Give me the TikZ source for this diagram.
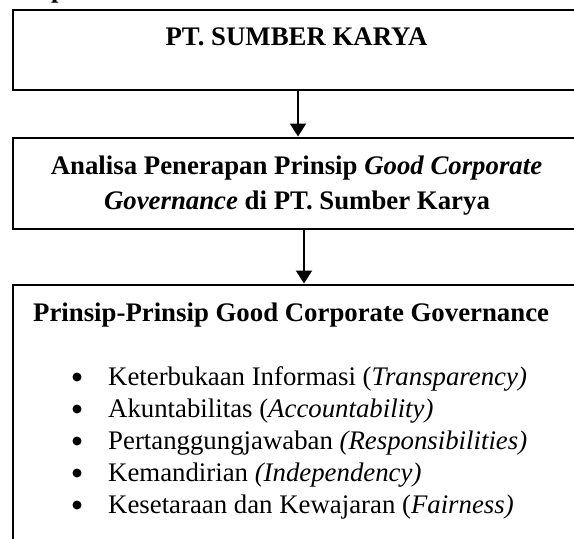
\documentclass[tikz,border=0pt]{standalone}
\usepackage{fontspec}
\setmainfont{Liberation Serif}
\usetikzlibrary{arrows.meta}
\tikzset{
  boxframe/.style={draw=black, line width=2pt, rectangle, inner sep=0pt, minimum width=568pt},
  txt/.style={inner sep=0pt, font=\fontsize{26.8}{35}\selectfont},
  btxt/.style={txt, font=\fontsize{26.8}{35}\selectfont\bfseries},
  dot/.style={circle, fill=black, inner sep=0pt, minimum size=9pt},
  arr/.style={line width=2pt, -{Triangle[width=16pt,length=13pt]}, shorten >=0.5pt}
}
\begin{document}
\begin{tikzpicture}[x=1pt,y=-1pt]
\useasboundingbox (0,0) rectangle (574,539);
\begin{scope}
\clip (0,0) rectangle (574,539);
% fragment of a heading above the picture
\node[btxt, anchor=base west] (frag) at (51,-3) {p};
% boxes
\node[boxframe, minimum height=80pt] (b1) at (296.5,50) {};
\node[boxframe, minimum height=91pt] (b2) at (296.5,183.5) {};
\node[boxframe, minimum height=300pt] (b3) at (296.5,435) {};
% box texts
\node[btxt, anchor=base] (t1) at (296.5,45) {PT. SUMBER KARYA};
\node[btxt, anchor=base] (t2a) at (296.5,174) {Analisa Penerapan Prinsip \textit{Good Corporate}};
\node[btxt, anchor=base] (t2b) at (297,209) {\textit{Governance} di PT. Sumber Karya};
\node[btxt, anchor=base west] (t3) at (33,321) {Prinsip-Prinsip Good Corporate Governance};
% bullets
\node[dot] (u1) at (77,377) {};
\node[dot] (u2) at (77,409) {};
\node[dot] (u3) at (77,441) {};
\node[dot] (u4) at (77,473) {};
\node[dot] (u5) at (77,505) {};
\node[txt, anchor=base west] (l1) at (108,385) {Keterbukaan Informasi (\textit{Transparency)}};
\node[txt, anchor=base west] (l2) at (108,417) {Akuntabilitas (\textit{Accountability)}};
\node[txt, anchor=base west] (l3) at (108,449) {Pertanggungjawaban \textit{(Responsibilities)}};
\node[txt, anchor=base west] (l4) at (108,481) {Kemandirian \textit{(Independency)}};
\node[txt, anchor=base west] (l5) at (108,513) {Kesetaraan dan Kewajaran (\textit{Fairness)}};
% connectors
\draw[arr] ([xshift=1.5pt]b1.south) -- ([xshift=1.5pt]b2.north);
\draw[arr] ([xshift=7.5pt]b2.south) -- ([xshift=7.5pt]b3.north);
\end{scope}
\end{tikzpicture}
\end{document}
